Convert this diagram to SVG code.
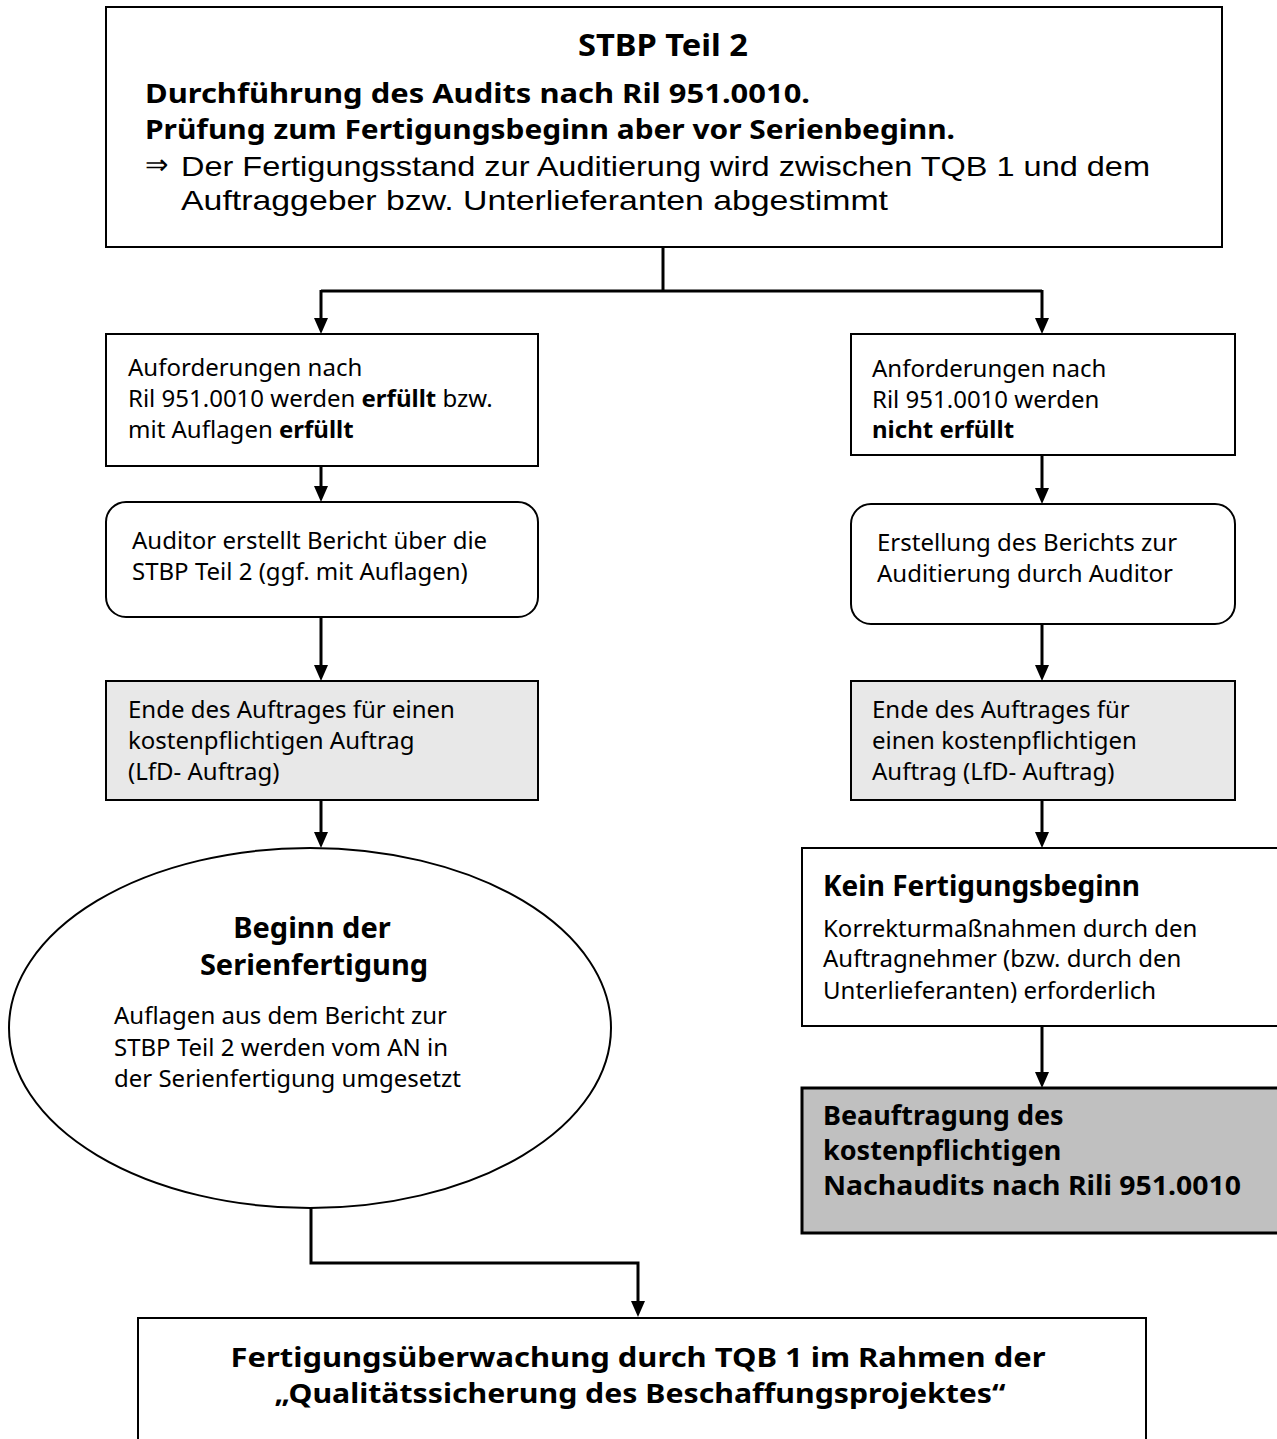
<svg xmlns="http://www.w3.org/2000/svg" width="1277" height="1439" viewBox="0 0 1277 1439">
<style>
.box{fill:#fff;stroke:#000;stroke-width:2}
.gray{fill:#e8e8e8;stroke:#000;stroke-width:2}
.dark{fill:#c0c0c0;stroke:#000;stroke-width:3}
.t{font-family:"Noto Sans","DejaVu Sans",sans-serif;font-size:24px;fill:#000}
.b{font-weight:bold}
.a{font-family:"Liberation Sans",Arial,sans-serif;font-size:28px;fill:#000}
.h{font-family:"Noto Sans","DejaVu Sans",sans-serif;font-weight:bold;fill:#000}
.c{fill:none;stroke:#000;stroke-width:3}
</style>
<rect width="1277" height="1439" fill="#fff"/>
<g id="connectors">
<polyline class="c" points="663,247 663,291"/>
<polyline class="c" points="321,291 1042,291"/>
<line class="c" x1="321" y1="290" x2="321" y2="318"/>
<line class="c" x1="1042" y1="290" x2="1042" y2="318"/>
<path d="M314,318 L328,318 L321,334 Z"/>
<path d="M1035,318 L1049,318 L1042,334 Z"/>
<line class="c" x1="321" y1="466" x2="321" y2="487"/>
<path d="M314,486 L328,486 L321,502 Z"/>
<line class="c" x1="1042" y1="455" x2="1042" y2="488"/>
<path d="M1035,488 L1049,488 L1042,504 Z"/>
<line class="c" x1="321" y1="617" x2="321" y2="666"/>
<path d="M314,665 L328,665 L321,681 Z"/>
<line class="c" x1="1042" y1="624" x2="1042" y2="666"/>
<path d="M1035,665 L1049,665 L1042,681 Z"/>
<line class="c" x1="321" y1="800" x2="321" y2="833"/>
<path d="M314,832 L328,832 L321,848 Z"/>
<line class="c" x1="1042" y1="800" x2="1042" y2="833"/>
<path d="M1035,832 L1049,832 L1042,848 Z"/>
<line class="c" x1="1042" y1="1026" x2="1042" y2="1073"/>
<path d="M1035,1072 L1049,1072 L1042,1088 Z"/>
<polyline class="c" points="311,1208 311,1263 638,1263 638,1302"/>
<path d="M631,1301 L645,1301 L638,1317 Z"/>
</g>
<g id="n-top">
<rect class="box" x="106" y="7" width="1116" height="240"/>
<text class="h" x="663" y="56" font-size="30" text-anchor="middle" textLength="170" lengthAdjust="spacingAndGlyphs">STBP Teil 2</text>
<text class="h" x="145" y="103" font-size="27" textLength="665" lengthAdjust="spacingAndGlyphs">Durchführung des Audits nach Ril 951.0010.</text>
<text class="h" x="145" y="139" font-size="27" textLength="810" lengthAdjust="spacingAndGlyphs">Prüfung zum Fertigungsbeginn aber vor Serienbeginn.</text>
<text class="a" x="145" y="174" font-size="20">⇒</text>
<text class="a" x="181" y="176" textLength="969" lengthAdjust="spacingAndGlyphs">Der Fertigungsstand zur Auditierung wird zwischen TQB 1 und dem</text>
<text class="a" x="181" y="210" textLength="707" lengthAdjust="spacingAndGlyphs">Auftraggeber bzw. Unterlieferanten abgestimmt</text>
</g>
<g id="n-l1">
<rect class="box" x="106" y="334" width="432" height="132"/>
<text class="t" x="128" y="376">Auforderungen nach</text>
<text class="t" x="128" y="407">Ril 951.0010 werden <tspan class="b">erfüllt</tspan> bzw.</text>
<text class="t" x="128" y="438">mit Auflagen <tspan class="b">erfüllt</tspan></text>
</g>
<g id="n-r1">
<rect class="box" x="851" y="334" width="384" height="121"/>
<text class="t" x="872" y="377">Anforderungen nach</text>
<text class="t" x="872" y="408">Ril 951.0010 werden</text>
<text class="t b" x="872" y="438">nicht erfüllt</text>
</g>
<g id="n-l2">
<rect class="box" x="106" y="502" width="432" height="115" rx="20"/>
<text class="t" x="132" y="549">Auditor erstellt Bericht über die</text>
<text class="t" x="132" y="580">STBP Teil 2 (ggf. mit Auflagen)</text>
</g>
<g id="n-r2">
<rect class="box" x="851" y="504" width="384" height="120" rx="20"/>
<text class="t" x="877" y="551">Erstellung des Berichts zur</text>
<text class="t" x="877" y="582">Auditierung durch Auditor</text>
</g>
<g id="n-l3">
<rect class="gray" x="106" y="681" width="432" height="119"/>
<text class="t" x="128" y="718">Ende des Auftrages für einen</text>
<text class="t" x="128" y="749">kostenpflichtigen Auftrag</text>
<text class="t" x="128" y="780">(LfD- Auftrag)</text>
</g>
<g id="n-r3">
<rect class="gray" x="851" y="681" width="384" height="119"/>
<text class="t" x="872" y="718">Ende des Auftrages für</text>
<text class="t" x="872" y="749">einen kostenpflichtigen</text>
<text class="t" x="872" y="780">Auftrag (LfD- Auftrag)</text>
</g>
<g id="n-ellipse">
<ellipse cx="310" cy="1028" rx="301" ry="180" fill="#fff" stroke="#000" stroke-width="2"/>
<text class="h" x="312" y="938" font-size="29" text-anchor="middle">Beginn der</text>
<text class="h" x="314" y="975" font-size="29" text-anchor="middle">Serienfertigung</text>
<text class="t" x="114" y="1024">Auflagen aus dem Bericht zur</text>
<text class="t" x="114" y="1056">STBP Teil 2 werden vom AN in</text>
<text class="t" x="114" y="1087">der Serienfertigung umgesetzt</text>
</g>
<g id="n-kein">
<rect class="box" x="802" y="848" width="480" height="178"/>
<text class="h" x="823" y="896" font-size="28">Kein Fertigungsbeginn</text>
<text class="t" x="823" y="937">Korrekturmaßnahmen durch den</text>
<text class="t" x="823" y="967">Auftragnehmer (bzw. durch den</text>
<text class="t" x="823" y="999">Unterlieferanten) erforderlich</text>
</g>
<g id="n-nachaudit">
<rect class="dark" x="802" y="1088" width="480" height="145"/>
<text class="h" x="823" y="1125" font-size="27">Beauftragung des</text>
<text class="h" x="823" y="1160" font-size="27">kostenpflichtigen</text>
<text class="h" x="823" y="1195" font-size="27" textLength="418" lengthAdjust="spacingAndGlyphs">Nachaudits nach Rili 951.0010</text>
</g>
<g id="n-bottom">
<rect class="box" x="138" y="1318" width="1008" height="140"/>
<text class="h" x="638" y="1367" font-size="27" text-anchor="middle" textLength="815" lengthAdjust="spacingAndGlyphs">Fertigungsüberwachung durch TQB 1 im Rahmen der</text>
<text class="h" x="640" y="1403" font-size="27" text-anchor="middle" textLength="731" lengthAdjust="spacingAndGlyphs">„Qualitätssicherung des Beschaffungsprojektes“</text>
</g>
</svg>
